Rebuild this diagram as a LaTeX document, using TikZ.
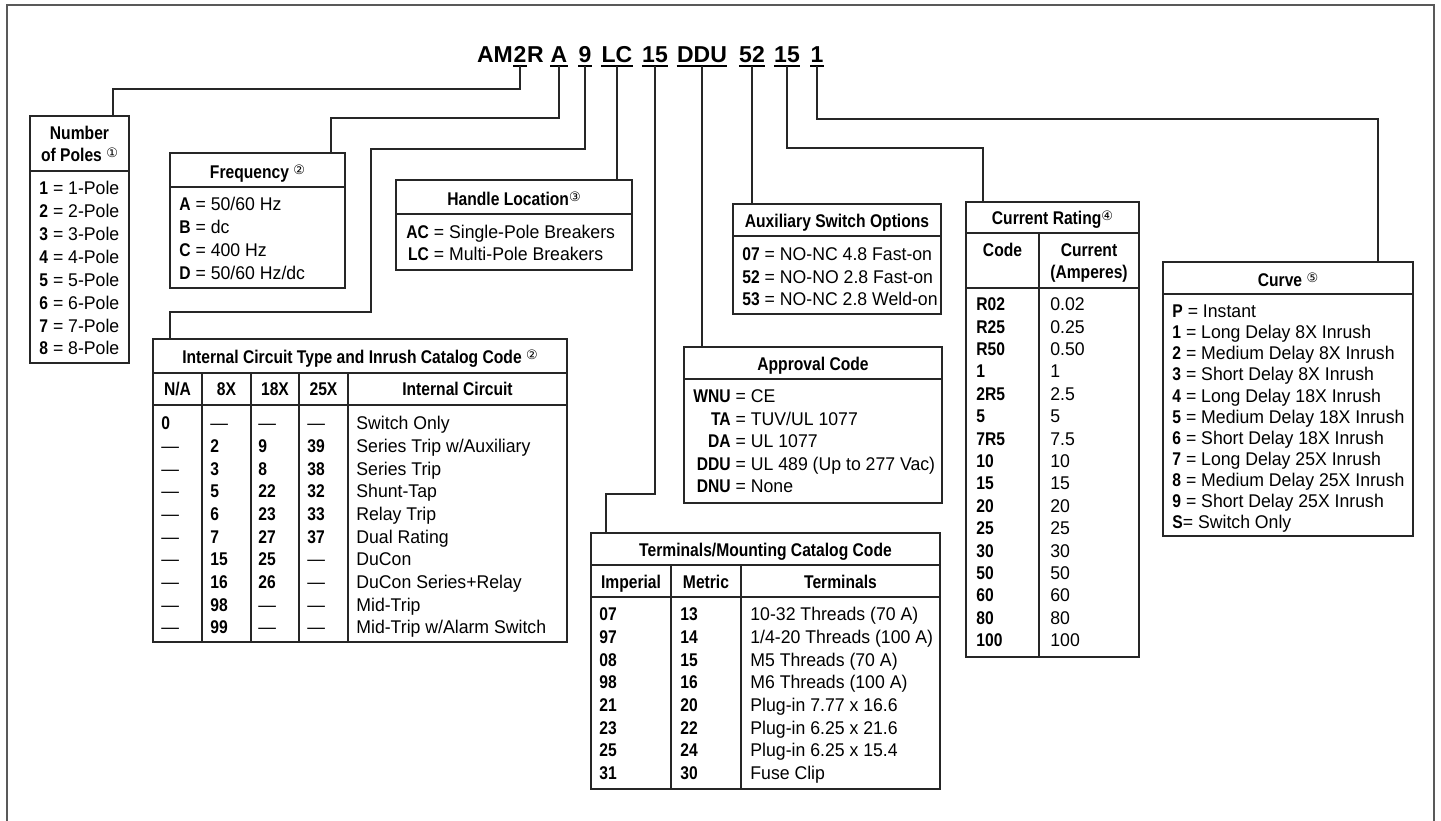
\documentclass[tikz,border=0pt]{standalone}
\usepackage{fontspec}
\setmainfont{Liberation Sans}[FakeStretch=0.96,BoldFeatures={FakeStretch=0.85}]
\newfontfamily\codefont{Liberation Sans}
\newfontfamily\symfont{DejaVu Sans}
\usetikzlibrary{fit}
\tikzset{
  box/.style={draw=black!85,line width=0.75pt,inner sep=0pt},
  rule/.style={draw=black!85,line width=0.75pt},
  link/.style={draw=black!85,line width=0.6pt},
  code/.style={font=\codefont\bfseries\fontsize{11.5}{14}\selectfont,anchor=base,
    inner xsep=0pt,inner ysep=1.6pt,text depth=0pt},
  uline/.style={line width=1pt},
  head/.style={font=\bfseries\fontsize{9.2}{11}\selectfont,anchor=base,inner sep=0pt},
  col/.style={anchor=base west,inner sep=0pt},
}
\newcommand{\circnum}[1]{{\symfont\mdseries\fontsize{6.5}{6.5}\selectfont\raisebox{2.3pt}{#1}}}
\newcommand{\lst}[2][11.3pt]{\fontsize{9.2}{#1}\selectfont\begin{tabular}[t]{@{}l@{}}#2\end{tabular}}
\newcommand{\eqlst}[2][11.3pt]{\fontsize{9.2}{#1}\selectfont\begin{tabular}[t]{@{}r@{\ =\ }l@{}}#2\end{tabular}}
\newcommand{\twoline}[2]{\begin{tabular}[t]{@{}c@{}}#1\\#2\end{tabular}}

\begin{document}
\begin{tikzpicture}[x=0.5pt,y=-0.5pt]
  \useasboundingbox (0,0) rectangle (1441,820);
  \draw[black!65,line width=1pt] (7,830) |- (1434,5) -- (1434,830);

  % catalog number
  \node[code] (t2) at (520,62) {2};
  \node[code,anchor=base east] (tAM) at (t2.base west) {AM};
  \node[code,anchor=base west] (tR) at (t2.base east) {R};
  \node[code] (tA) at (559,62) {A};
  \node[code] (t9) at (585,62) {9};
  \node[code] (tLC) at (617,62) {LC};
  \node[code] (t15a) at (655,62) {15};
  \node[code] (tDDU) at (702,62) {DDU};
  \node[code] (t52) at (752,62) {52};
  \node[code] (t15b) at (787,62) {15};
  \node[code] (t1) at (817,62) {1};
  \draw[uline] (t2.south west) -- (t2.south east) (tA.south west) -- (tA.south east)
    (t9.south west) -- (t9.south east) (tLC.south west) -- (tLC.south east)
    (t15a.south west) -- (t15a.south east) (tDDU.south west) -- (tDDU.south east)
    (t52.south west) -- (t52.south east) (t15b.south west) -- (t15b.south east)
    (t1.south west) -- (t1.south east);

  % number of poles
  \node[box,fit={(30,116) (129,363)}] (poles) {};
  \draw[rule] (30,171) -- (129,171);
  \node[head] (poles-h) at (79.5,139.6) {\twoline{Number}{of Poles \circnum{①}}};
  \node[col] (poles-l) at (39,194.6) {\lst[11.45pt]{\textbf{1} = 1-Pole\\\textbf{2} = 2-Pole\\
    \textbf{3} = 3-Pole\\\textbf{4} = 4-Pole\\\textbf{5} = 5-Pole\\\textbf{6} = 6-Pole\\
    \textbf{7} = 7-Pole\\\textbf{8} = 8-Pole}};

  % frequency
  \node[box,fit={(170,153) (345,288)}] (freq) {};
  \draw[rule] (170,187) -- (345,187);
  \node[head] (freq-h) at (257.5,178.6) {Frequency \circnum{②}};
  \node[col] (freq-l) at (179,210.6) {\lst[11.5pt]{\textbf{A} = 50/60 Hz\\\textbf{B} = dc\\
    \textbf{C} = 400 Hz\\\textbf{D} = 50/60 Hz/dc}};

  % handle location
  \node[box,fit={(396,180) (632,270)}] (handle) {};
  \draw[rule] (396,214) -- (632,214);
  \node[head] (handle-h) at (514,205.6) {Handle Location\circnum{③}};
  \node[col] (handle-l) at (406,238.6) {\eqlst[11pt]{\textbf{AC} & Single-Pole Breakers\\
    \textbf{LC} & Multi-Pole Breakers}};

  % internal circuit
  \node[box,fit={(153,339) (567,642)}] (circ) {};
  \draw[rule] (153,373) -- (567,373) (153,405) -- (567,405);
  \draw[rule] (202,373) -- (202,642) (251,373) -- (251,642)
    (299,373) -- (299,642) (348,373) -- (348,642);
  \node[head] (circ-h) at (360,363.6) {Internal Circuit Type and Inrush Catalog Code \circnum{②}};
  \node[head] (circ-h1) at (177.5,395.6) {N/A};
  \node[head] (circ-h2) at (226.5,395.6) {8X};
  \node[head] (circ-h3) at (275,395.6) {18X};
  \node[head] (circ-h4) at (323.5,395.6) {25X};
  \node[head] (circ-h5) at (457.5,395.6) {Internal Circuit};
  \node[col] (circ-c1) at (161,429.6) {\lst[11.35pt]{\textbf{0}\\—\\—\\—\\—\\—\\—\\—\\—\\—}};
  \node[col] (circ-c2) at (210,429.6) {\lst[11.35pt]{—\\\textbf{2}\\\textbf{3}\\\textbf{5}\\
    \textbf{6}\\\textbf{7}\\\textbf{15}\\\textbf{16}\\\textbf{98}\\\textbf{99}}};
  \node[col] (circ-c3) at (258,429.6) {\lst[11.35pt]{—\\\textbf{9}\\\textbf{8}\\\textbf{22}\\
    \textbf{23}\\\textbf{27}\\\textbf{25}\\\textbf{26}\\—\\—}};
  \node[col] (circ-c4) at (307,429.6) {\lst[11.35pt]{—\\\textbf{39}\\\textbf{38}\\\textbf{32}\\
    \textbf{33}\\\textbf{37}\\—\\—\\—\\—}};
  \node[col] (circ-c5) at (356,429.6) {\lst[11.35pt]{Switch Only\\Series Trip w/Auxiliary\\
    Series Trip\\Shunt-Tap\\Relay Trip\\Dual Rating\\DuCon\\DuCon Series+Relay\\
    Mid-Trip\\Mid-Trip w/Alarm Switch}};

  % terminals
  \node[box,fit={(591,533) (940,789)}] (term) {};
  \draw[rule] (591,565) -- (940,565) (591,597) -- (940,597);
  \draw[rule] (671,565) -- (671,789) (741,565) -- (741,789);
  \node[head] (term-h) at (765.5,556.6) {Terminals/Mounting Catalog Code};
  \node[head] (term-h1) at (631,588.6) {Imperial};
  \node[head] (term-h2) at (706,588.6) {Metric};
  \node[head] (term-h3) at (840.5,588.6) {Terminals};
  \node[col] (term-c1) at (599,620.6) {\lst[11.35pt]{\textbf{07}\\\textbf{97}\\\textbf{08}\\
    \textbf{98}\\\textbf{21}\\\textbf{23}\\\textbf{25}\\\textbf{31}}};
  \node[col] (term-c2) at (680,620.6) {\lst[11.35pt]{\textbf{13}\\\textbf{14}\\\textbf{15}\\
    \textbf{16}\\\textbf{20}\\\textbf{22}\\\textbf{24}\\\textbf{30}}};
  \node[col] (term-c3) at (750,620.6) {\lst[11.35pt]{10-32 Threads (70 A)\\
    1/4-20 Threads (100 A)\\M5 Threads (70 A)\\M6 Threads (100 A)\\
    Plug-in 7.77 x 16.6\\Plug-in 6.25 x 21.6\\Plug-in 6.25 x 15.4\\Fuse Clip}};

  % approval
  \node[box,fit={(684,347) (942,503)}] (appr) {};
  \draw[rule] (684,379) -- (942,379);
  \node[head] (appr-h) at (813,370.6) {Approval Code};
  \node[col] (appr-l) at (693,402.6) {\eqlst[11.25pt]{\textbf{WNU} & CE\\\textbf{TA} & TUV/UL 1077\\
    \textbf{DA} & UL 1077\\\textbf{DDU} & UL 489 (Up to 277 Vac)\\\textbf{DNU} & None}};

  % auxiliary switch
  \node[box,fit={(733,204) (941,314)}] (aux) {};
  \draw[rule] (733,236) -- (941,236);
  \node[head] (aux-h) at (837,227.6) {Auxiliary Switch Options};
  \node[col] (aux-l) at (742,260.6) {\lst[11.25pt]{\textbf{07} = NO-NC 4.8 Fast-on\\
    \textbf{52} = NO-NO 2.8 Fast-on\\\textbf{53} = NO-NC 2.8 Weld-on}};

  % current rating
  \node[box,fit={(966,202) (1139,657)}] (curr) {};
  \draw[rule] (966,233) -- (1139,233) (966,288) -- (1139,288) (1039,233) -- (1039,657);
  \node[head] (curr-h) at (1052.5,224.6) {Current Rating\circnum{④}};
  \node[head] (curr-h1) at (1002.5,256.6) {Code};
  \node[head] (curr-h2) at (1089,256.6) {\twoline{Current}{(Amperes)}};
  \node[col] (curr-c1) at (976,310.6) {\lst[11.2pt]{\textbf{R02}\\\textbf{R25}\\\textbf{R50}\\
    \textbf{1}\\\textbf{2R5}\\\textbf{5}\\\textbf{7R5}\\\textbf{10}\\\textbf{15}\\\textbf{20}\\
    \textbf{25}\\\textbf{30}\\\textbf{50}\\\textbf{60}\\\textbf{80}\\\textbf{100}}};
  \node[col] (curr-c2) at (1050,310.6) {\lst[11.2pt]{0.02\\0.25\\0.50\\1\\2.5\\5\\7.5\\10\\
    15\\20\\25\\30\\50\\60\\80\\100}};

  % curve
  \node[box,fit={(1163,262) (1413,536)}] (curve) {};
  \draw[rule] (1163,294) -- (1413,294);
  \node[head] (curve-h) at (1288,286.6) {Curve \circnum{⑤}};
  \node[col] (curve-l) at (1172,317.6) {\lst[10.55pt]{\textbf{P} = Instant\\
    \textbf{1} = Long Delay 8X Inrush\\\textbf{2} = Medium Delay 8X Inrush\\
    \textbf{3} = Short Delay 8X Inrush\\\textbf{4} = Long Delay 18X Inrush\\
    \textbf{5} = Medium Delay 18X Inrush\\\textbf{6} = Short Delay 18X Inrush\\
    \textbf{7} = Long Delay 25X Inrush\\\textbf{8} = Medium Delay 25X Inrush\\
    \textbf{9} = Short Delay 25X Inrush\\\textbf{S}= Switch Only}};

  % connectors
  \coordinate (k2) at (113,89);
  \coordinate (kA) at (331,118);
  \coordinate (k9) at (170,312);
  \coordinate (k15a) at (606,494);
  \coordinate (k15b) at (983,148);
  \coordinate (k1) at (1378,119);
  \draw[link] (t2.south) |- (k2) -- (k2 |- poles.north);
  \draw[link] (tA.south) |- (kA) -- (kA |- freq.north);
  \draw[link] (t9.south) |- (371,149) |- (k9) -- (k9 |- circ.north);
  \draw[link] (tLC.south) -- (tLC.south |- handle.north);
  \draw[link] (t15a.south) |- (k15a) -- (k15a |- term.north);
  \draw[link] (tDDU.south) -- (tDDU.south |- appr.north);
  \draw[link] (t52.south) -- (t52.south |- aux.north);
  \draw[link] (t15b.south) |- (k15b) -- (k15b |- curr.north);
  \draw[link] (t1.south) |- (k1) -- (k1 |- curve.north);
\end{tikzpicture}
\end{document}
